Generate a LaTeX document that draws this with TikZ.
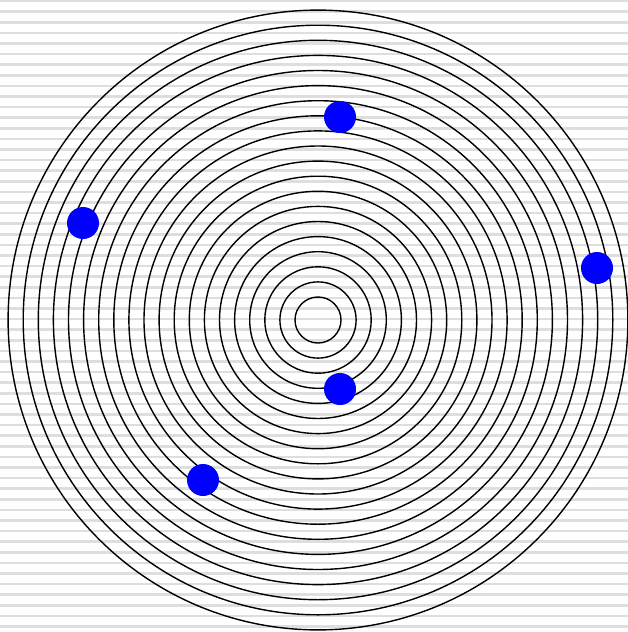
\documentclass[tikz,border=0pt]{standalone}
\usepackage{xcolor}
\usepackage{tikz}
\usetikzlibrary{positioning, calc, backgrounds}
\tikzset{
  bgstripe/.style={
    line width=2.6pt, color=black!13
  },
  ring/.style={
    draw=black, line width=1.4pt
  },
  planetdot/.style={
    circle, fill=blue, draw=none, minimum size=32pt, inner sep=0pt
  },
}

\begin{document}
\begin{tikzpicture}[x=1pt, y=-1pt]
  % ── Canvas ──
  \useasboundingbox (0,0) rectangle (628,632);
  \fill[white] (0,0) rectangle (628,632);
  \foreach \i in {0,...,59} {
    \draw[bgstripe] (0, 1+10.6*\i) -- (628, 1+10.6*\i);
  }

  % ── Concentric rings ──
  \coordinate (hub) at (318, 320);
  \foreach \k in {0,...,19} {
    \draw[ring] (hub) circle ({23+15.1*\k});
  }

  % ── Dots ──
  \node[planetdot] (dotA) at (340, 117) {};
  \node[planetdot] (dotB) at (83, 223) {};
  \node[planetdot] (dotC) at (597, 268) {};
  \node[planetdot] (dotD) at (340, 389) {};
  \node[planetdot] (dotE) at (203, 480) {};
\end{tikzpicture}
\end{document}
